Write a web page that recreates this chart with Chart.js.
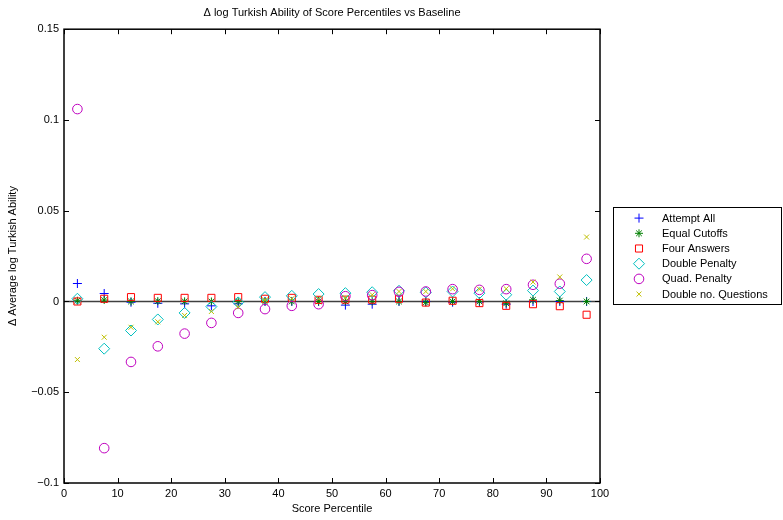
<!DOCTYPE html>
<html>
<head>
<meta charset="utf-8">
<script src="https://cdn.jsdelivr.net/npm/chart.js@4/dist/chart.umd.min.js"></script>
<style>
  html, body { margin: 0; padding: 0; background: #ffffff; }
  #wrap { width: 783px; height: 520px; position: relative; }
</style>
</head>
<body>
<div id="wrap"><canvas id="c" width="783" height="520"></canvas></div>
<script>
const percentiles = [2.5, 7.5, 12.5, 17.5, 22.5, 27.5, 32.5, 37.5, 42.5, 47.5, 52.5, 57.5, 62.5, 67.5, 72.5, 77.5, 82.5, 87.5, 92.5, 97.5];
const attemptAll      = [0.0099, 0.0044, -0.0004, -0.0010, -0.0013, -0.0024, -0.0013, 0.0000, 0.0000, 0.0000, -0.0020, -0.0015, 0.0000, 0.0000, -0.0004, -0.0003, -0.0015, 0.0000, 0.0000, 0.0000];
const equalCutoffs    = [0.0004, 0.0008, 0.0000, 0.0002, 0.0001, 0.0000, 0.0000, 0.0000, 0.0000, 0.0000, 0.0000, 0.0000, 0.0000, -0.0005, 0.0000, 0.0000, -0.0010, 0.0009, 0.0005, 0.0000];
const fourAnswers     = [0.0000, 0.0015, 0.0024, 0.0020, 0.0020, 0.0020, 0.0024, 0.0015, 0.0020, 0.0009, 0.0010, 0.0010, 0.0015, -0.0006, 0.0004, -0.0009, -0.0024, -0.0015, -0.0026, -0.0073];
const doublePenalty   = [0.0015, -0.0260, -0.0160, -0.0099, -0.0063, -0.0028, -0.0005, 0.0024, 0.0031, 0.0041, 0.0046, 0.0051, 0.0059, 0.0050, 0.0055, 0.0046, 0.0037, 0.0060, 0.0055, 0.0118];
const quadPenalty     = [0.1060, -0.0808, -0.0333, -0.0247, -0.0177, -0.0118, -0.0063, -0.0042, -0.0024, -0.0015, 0.0029, 0.0035, 0.0053, 0.0055, 0.0068, 0.0064, 0.0068, 0.0092, 0.0098, 0.0235];
const doubleQuestions = [-0.0320, -0.0197, -0.0142, -0.0112, -0.0077, -0.0055, -0.0031, 0.0009, 0.0015, 0.0015, 0.0020, 0.0037, 0.0055, 0.0055, 0.0070, 0.0068, 0.0070, 0.0107, 0.0135, 0.0355];

const seriesNames = ['Attempt All', 'Equal Cutoffs', 'Four Answers', 'Double Penalty', 'Quad. Penalty', 'Double no. Questions'];
const seriesData = [attemptAll, equalCutoffs, fourAnswers, doublePenalty, quadPenalty, doubleQuestions];
const seriesColors = ['#0000ff', '#008000', '#ff0000', '#00bfbf', '#bf00bf', '#bfbf00'];
const seriesStyles = ['cross', 'star', 'rect', 'rectRot', 'circle', 'crossRot'];
const seriesRadius = [4.5, 4, 5, 5.5, 4.8, 3.5];

const xTicks = [0, 10, 20, 30, 40, 50, 60, 70, 80, 90, 100];
const yTicks = [-0.1, -0.05, 0, 0.05, 0.1, 0.15];

const FONT = '"Liberation Sans", Arial, Helvetica, sans-serif';

const datasets = seriesNames.map((name, i) => ({
  label: name,
  data: percentiles.map((p, k) => ({ x: p, y: seriesData[i][k] })),
  showLine: false,
  order: seriesNames.length - 1 - i,
  pointStyle: seriesStyles[i],
  pointRadius: seriesRadius[i],
  pointHoverRadius: seriesRadius[i],
  borderColor: seriesColors[i],
  pointBorderColor: seriesColors[i],
  backgroundColor: 'rgba(0,0,0,0)',
  pointBackgroundColor: 'rgba(0,0,0,0)',
  pointBorderWidth: 1,
  borderWidth: 1
}));

function fmtY(v) {
  const r = Math.round(v * 1000) / 1000;
  if (r === 0) return '0';
  const s = Math.abs(r).toString();
  return (r < 0 ? '\u2212' : '') + s;
}

const framePlugin = {
  id: 'frame',
  beforeDatasetsDraw(chart) {
    const { ctx, chartArea: a, scales } = chart;
    ctx.save();
    const y0 = scales.y.getPixelForValue(0);
    ctx.strokeStyle = '#404040';
    ctx.lineWidth = 1.3;
    ctx.beginPath();
    ctx.moveTo(a.left, y0);
    ctx.lineTo(a.right, y0);
    ctx.stroke();
    ctx.restore();
  },
  afterDatasetsDraw(chart) {
    const { ctx, chartArea: a, scales } = chart;
    ctx.save();
    ctx.strokeStyle = '#000000';
    ctx.lineWidth = 1.5;
    ctx.strokeRect(a.left, a.top, a.right - a.left, a.bottom - a.top);
    ctx.lineWidth = 1;
    const tl = 5;
    ctx.beginPath();
    xTicks.forEach(v => {
      const x = Math.round(scales.x.getPixelForValue(v)) + 0.5;
      ctx.moveTo(x, a.bottom); ctx.lineTo(x, a.bottom - tl);
      ctx.moveTo(x, a.top); ctx.lineTo(x, a.top + tl);
    });
    yTicks.forEach(v => {
      const y = Math.round(scales.y.getPixelForValue(v)) + 0.5;
      ctx.moveTo(a.left, y); ctx.lineTo(a.left + tl, y);
      ctx.moveTo(a.right, y); ctx.lineTo(a.right - tl, y);
    });
    ctx.stroke();

    // legend box
    const lx = a.right + 13, lw = 168, rowH = 15.2, lh = 97;
    const ly = (a.top + a.bottom) / 2 - lh / 2 - 1;
    ctx.fillStyle = '#ffffff';
    ctx.fillRect(lx, ly, lw, lh);
    ctx.strokeStyle = '#000000';
    ctx.lineWidth = 1;
    ctx.strokeRect(Math.round(lx) + 0.5, Math.round(ly) + 0.5, lw, lh);
    ctx.font = '11px ' + FONT;
    ctx.textBaseline = 'middle';
    ctx.textAlign = 'left';
    seriesNames.forEach((name, i) => {
      const cy = ly + 11.5 + i * rowH;
      ctx.save();
      ctx.strokeStyle = seriesColors[i];
      ctx.fillStyle = 'rgba(0,0,0,0)';
      ctx.lineWidth = 1;
      Chart.helpers.drawPoint(ctx, { pointStyle: seriesStyles[i], rotation: 0, borderWidth: 1, radius: seriesRadius[i] }, lx + 26, cy);
      ctx.restore();
      ctx.fillStyle = '#000000';
      ctx.fillText(name, lx + 49, cy + 0.5);
    });
    ctx.restore();
  }
};

new Chart(document.getElementById('c'), {
  type: 'scatter',
  data: { datasets },
  options: {
    responsive: false,
    animation: false,
    devicePixelRatio: 1,
    layout: { padding: { left: 0, right: 183, top: 0, bottom: 0 } },
    plugins: {
      legend: { display: false },
      tooltip: { enabled: false },
      title: {
        display: true,
        fullSize: false,
        text: '\u0394 log Turkish Ability of Score Percentiles vs Baseline',
        color: '#000000',
        font: { family: FONT, size: 11, weight: 'normal' },
        padding: { top: 6, bottom: 10 }
      }
    },
    scales: {
      x: {
        type: 'linear',
        min: 0, max: 100,
        afterBuildTicks(scale) { scale.ticks = xTicks.map(v => ({ value: v })); },
        afterFit(scale) { scale.height = 37; },
        grid: { display: false, drawTicks: false },
        border: { display: false },
        ticks: { color: '#000000', font: { family: FONT, size: 11 }, padding: 4, maxRotation: 0, autoSkip: false },
        title: { display: true, text: 'Score Percentile', color: '#000000', font: { family: FONT, size: 11 }, padding: { top: 0, bottom: 4 } }
      },
      y: {
        type: 'linear',
        min: -0.1, max: 0.15,
        afterBuildTicks(scale) { scale.ticks = yTicks.map(v => ({ value: v })); },
        afterFit(scale) { scale.width = 64; },
        grid: { display: false, drawTicks: false },
        border: { display: false },
        ticks: { color: '#000000', font: { family: FONT, size: 11 }, padding: 5, autoSkip: false, callback: v => fmtY(v) },
        title: { display: true, text: '\u0394 Average log Turkish Ability', color: '#000000', font: { family: FONT, size: 11 }, padding: { top: 6, bottom: 0 } }
      }
    }
  },
  plugins: [framePlugin]
});
</script>
</body>
</html>
